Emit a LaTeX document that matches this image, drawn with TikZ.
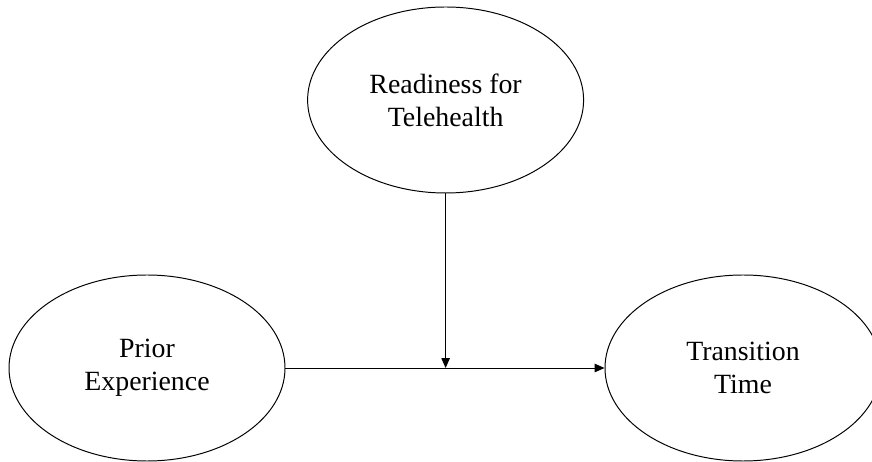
\documentclass[tikz,border=0pt]{standalone}
\usepackage{fontspec}
\setmainfont{Liberation Serif}
\usetikzlibrary{shapes.geometric,arrows.meta}

\tikzset{
  var/.style={ellipse, draw, line width=0.7pt, minimum width=6.9cm, minimum height=4.65cm,
    inner sep=0pt, align=center, font=\fontsize{19.8}{23.5}\selectfont},
  seta/.style={line width=0.7pt, -{Triangle[length=7pt,width=6pt]}}
}

\begin{document}
\begin{tikzpicture}
%\draw [lightgray](0,0) grid (22,12);
\useasboundingbox (0,0) rectangle (21.8,11.55);

\node [var] (ready) at (11.14,9.05) {Readiness for\\Telehealth}; % Moderador
\node [var] (prior) at (3.675,2.35) {Prior\\Experience}; % Independente
\node [var] (trans) at (18.575,2.35) {Transition\\Time}; % Dependente

\coordinate (meet) at (ready.south |- prior.east);
\draw [seta] (prior.east) -- (trans.west);
\draw [seta] (ready.south) -- (meet);

\end{tikzpicture}
\end{document}
